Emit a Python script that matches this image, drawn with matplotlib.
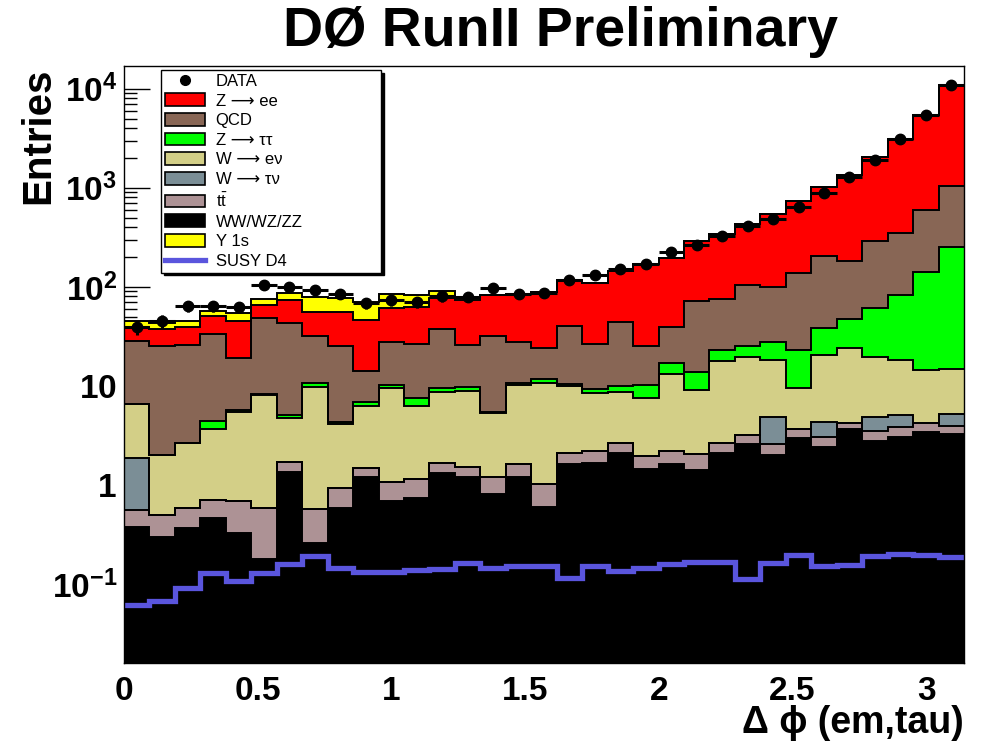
import numpy as np
import matplotlib
matplotlib.use("Agg")
import matplotlib.pyplot as plt
from matplotlib.patches import Patch
from matplotlib.lines import Line2D
from matplotlib.ticker import LogLocator, NullFormatter

plt.rcParams["font.family"] = ["Liberation Sans", "DejaVu Sans"]
plt.rcParams["mathtext.fontset"] = "custom"
plt.rcParams["mathtext.rm"] = "Liberation Sans"
plt.rcParams["mathtext.bf"] = "Liberation Sans:bold"
plt.rcParams["mathtext.it"] = "Liberation Sans:italic"

# 33 bins in delta phi between the em object and the tau
n_bins = 33
edges = np.linspace(0, np.pi, n_bins + 1)
centers = 0.5 * (edges[:-1] + edges[1:])

data = [39, 45, 64, 64, 62, 105, 99, 92, 84, 68, 73, 70, 80, 79, 98, 84, 86,
        116, 132, 153, 170, 227, 266, 330, 413, 490, 647, 884, 1301, 1918,
        3103, 5462, 10975]

ww = [0.38, 0.30, 0.37, 0.46, 0.33, 0.18, 1.34, 0.26, 0.58, 1.21, 0.68, 0.73,
      1.31, 1.21, 0.81, 1.21, 0.60, 1.62, 1.66, 2.12, 1.44, 1.63, 1.42, 2.09,
      2.60, 2.01, 2.96, 2.44, 3.65, 2.80, 3.03, 3.46, 3.25]
ttbar = [0.18, 0.20, 0.22, 0.25, 0.35, 0.40, 0.38, 0.31, 0.36, 0.28, 0.40,
         0.42, 0.34, 0.32, 0.39, 0.41, 0.43, 0.47, 0.55, 0.56, 0.52, 0.58,
         0.65, 0.55, 0.61, 0.59, 0.69, 0.60, 0.61, 0.73, 0.79, 0.75, 0.69]
w_taunu = [1.30, 0, 0, 0, 0, 0, 0, 0, 0, 0, 0, 0, 0, 0, 0, 0, 0, 0, 0, 0, 0,
           0, 0, 0, 0, 2.30, 0, 1.23, 0, 1.29, 1.27, 0, 1.27]
w_enu = [4.72, 1.50, 2.03, 2.95, 4.75, 7.48, 3.00, 9.13, 3.16, 4.79, 8.40,
         5.14, 7.10, 7.44, 4.10, 8.61, 9.63, 7.91, 6.23, 6.09, 5.66, 11.0,
         7.11, 15.4, 16.3, 13.4, 5.83, 16.3, 19.8, 14.7, 13.2, 10.1, 9.54]
z_tautau = [0, 0, 0, 0.71, 0.25, 0.20, 0.37, 0.95, 0.26, 0.61, 0.75, 1.23,
            0.72, 0.73, 0.20, 0.57, 1.04, 0.40, 0.82, 1.24, 2.61, 3.74, 4.76,
            5.09, 5.86, 9.73, 13.6, 17.7, 23.2, 41.4, 64.7, 128, 235]
qcd = [21.5, 23.4, 23.3, 28.9, 13.4, 40.1, 38.5, 21.6, 21.0, 7.38, 17.8, 19.1,
       28.2, 16.3, 26.7, 17.2, 12.7, 30.3, 17.1, 34.0, 15.3, 22.8, 58.6, 52.0,
       79.5, 71.3, 114, 167, 137, 231, 266, 457, 782]
z_ee = [11.1, 12.0, 13.8, 18.0, 26.3, 17.5, 30.3, 24.1, 30.2, 32.1, 32.9,
        36.2, 39.3, 48.0, 50.8, 57.0, 65.3, 77.9, 82.6, 101, 145, 155, 217,
        268, 328, 443, 602, 810, 1178, 1733, 2776, 4862, 9944]
upsilon = [6.5, 5.6, 5.9, 6.3, 8.9, 9.8, 13.7, 22.4, 21.9, 23.7, 23.5, 19.3,
           14.8, 4.8, 0, 0, 0, 0, 0, 0, 0, 0, 0, 0, 0, 0, 0, 0, 0, 0, 0, 0, 0]
susy_d4 = [0.061, 0.067, 0.091, 0.128, 0.106, 0.130, 0.159, 0.192, 0.146,
           0.133, 0.133, 0.138, 0.142, 0.162, 0.144, 0.150, 0.153, 0.116,
           0.153, 0.136, 0.144, 0.159, 0.166, 0.166, 0.112, 0.162, 0.196,
           0.150, 0.156, 0.192, 0.200, 0.196, 0.186]

ARROW = " \u27f6 "
TTBAR = r"t$\mathrm{\bar{t}}$"

# stack order, bottom to top
stack = [
    (ww, "#000000", "WW/WZ/ZZ"),
    (ttbar, "#ad9295", TTBAR),
    (w_taunu, "#7b8e96", "W" + ARROW + "\u03c4\u03bd"),
    (w_enu, "#d3cf87", "W" + ARROW + "e\u03bd"),
    (z_tautau, "#00ff00", "Z" + ARROW + "\u03c4\u03c4"),
    (qcd, "#886655", "QCD"),
    (z_ee, "#ff0000", "Z" + ARROW + "ee"),
    (upsilon, "#ffff00", "Y 1s"),
]

fig = plt.figure(figsize=(9.86, 7.48), dpi=100)
ax = fig.add_axes([124 / 986, 1 - 663 / 748, 840 / 986, 597 / 748])

cumulative = np.cumsum([np.array(v, dtype=float) for v, _, _ in stack], axis=0)

# draw like a THStack: the full sum first, then each partial sum on top
for k in range(len(stack) - 1, -1, -1):
    ax.stairs(cumulative[k], edges, baseline=1e-3, fill=True,
              facecolor=stack[k][1], edgecolor="none", zorder=2)
    ax.stairs(cumulative[k], edges, baseline=None, color="black",
              linewidth=1.4, zorder=3)

ax.stairs(susy_d4, edges, baseline=None, color="#5a55dd", linewidth=3.8,
          zorder=4)

data_arr = np.array(data, dtype=float)
half_width = 0.5 * (edges[1] - edges[0])
ax.errorbar(centers, data_arr, xerr=half_width, yerr=np.sqrt(data_arr),
            fmt="o", color="black", markersize=7.5, elinewidth=2.2,
            capsize=0, zorder=5)

ax.set_yscale("log")
ax.set_xlim(0, np.pi)
ax.set_ylim(0.0159, 17000)

ax.set_yticks([0.1, 1, 10, 100, 1000, 10000],
              labels=[r"$\mathbf{10^{-1}}$", r"$\mathbf{1}$", r"$\mathbf{10}$",
                      r"$\mathbf{10^{2}}$", r"$\mathbf{10^{3}}$",
                      r"$\mathbf{10^{4}}$"])
ax.yaxis.set_minor_locator(LogLocator(base=10, subs=np.arange(2, 10)))
ax.yaxis.set_minor_formatter(NullFormatter())
ax.tick_params(axis="y", which="major", direction="in", length=19, width=1,
               labelsize=24, pad=5)
ax.tick_params(axis="y", which="minor", direction="in", length=9.5, width=1)

ax.set_xticks([0, 0.5, 1, 1.5, 2, 2.5, 3])
ax.set_xticklabels(["0", "0.5", "1", "1.5", "2", "2.5", "3"],
                   fontsize=24, fontweight="bold")
ax.tick_params(axis="x", length=0, pad=9)

for side in ["left", "right", "top", "bottom"]:
    ax.spines[side].set_linewidth(1.0)
    ax.spines[side].set_zorder(6)

fig.text(0.568, 0.957, "D\u00d8 RunII Preliminary", ha="center",
         va="center", fontsize=40, fontweight="bold")
fig.text(0.039, 0.91, "Entries", rotation=90, ha="center", va="top",
         fontsize=29, fontweight="bold")
fig.text(0.977, 0.033, "\u0394 \u03d5 (em,tau)", ha="right", va="center",
         fontsize=27, fontweight="bold")

handle_map = {}
for values, color, name in stack:
    handle_map[name] = Patch(facecolor=color, edgecolor="black",
                             linewidth=1.2)

# legend order follows the plotting convention of the original macro
order = ["Z" + ARROW + "ee", "QCD", "Z" + ARROW + "\u03c4\u03c4",
         "W" + ARROW + "e\u03bd", "W" + ARROW + "\u03c4\u03bd", TTBAR,
         "WW/WZ/ZZ", "Y 1s"]
leg_handles = [Line2D([], [], marker="o", color="black", linestyle="none",
                      markersize=7)]
leg_handles += [handle_map[name] for name in order]
leg_handles.append(Line2D([], [], color="#5a55dd", linewidth=3.8))
leg_labels = ["DATA"] + order + ["SUSY D4"]

leg = fig.legend(leg_handles, leg_labels, loc="upper left",
                 bbox_to_anchor=(161 / 986, 1 - 273 / 748, 220 / 986,
                                 203 / 748),
                 mode="expand", fontsize=12, frameon=True, fancybox=False,
                 shadow={"color": "black", "alpha": 1.0},
                 handlelength=2.4, handleheight=0.8, handletextpad=0.65,
                 labelspacing=0.27, borderpad=0.22, borderaxespad=0)
leg.get_frame().set_edgecolor("black")
leg.get_frame().set_linewidth(1.0)
leg.set_zorder(10)

fig.savefig("out.png", dpi=100)
